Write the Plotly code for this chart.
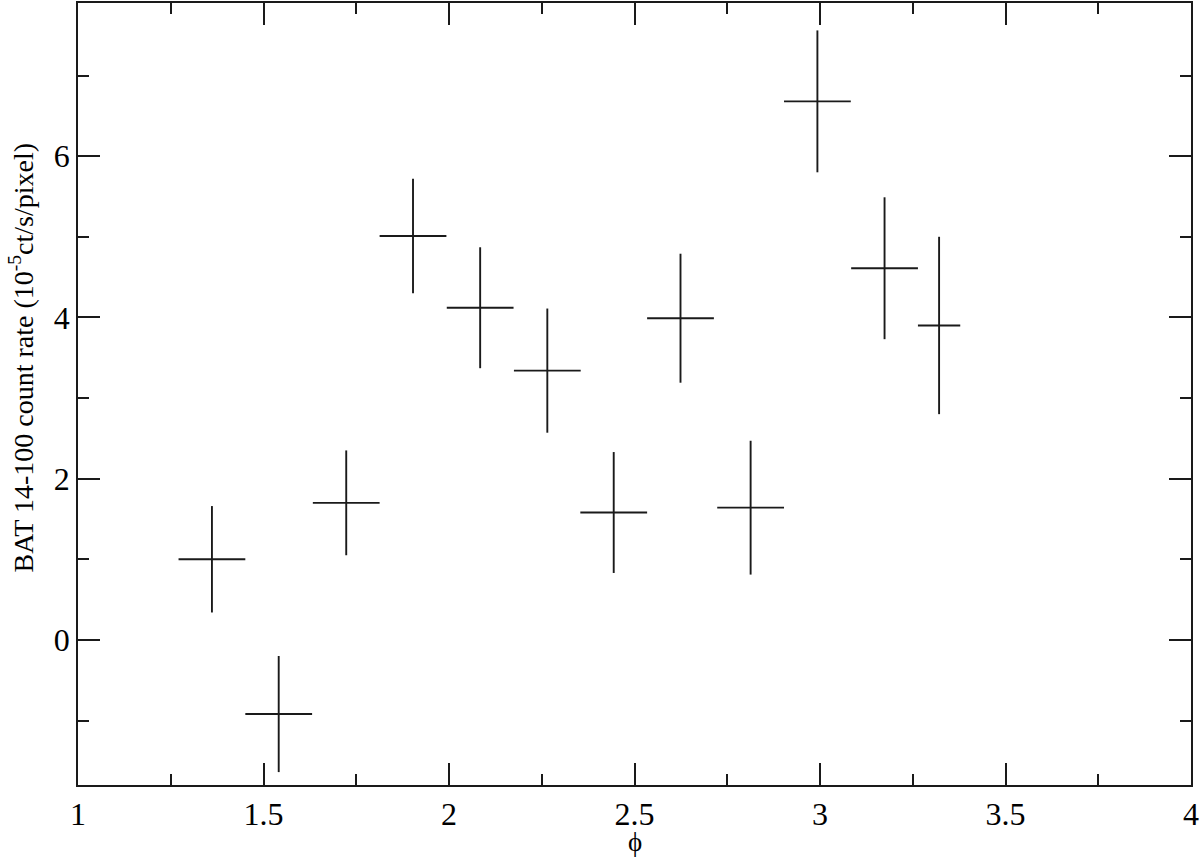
import plotly.graph_objects as go

# phase bins and BAT count rate (10^-5 ct/s/pixel)
phi = [1.361, 1.541, 1.723, 1.903, 2.084, 2.265, 2.444, 2.624, 2.813, 2.993, 3.174, 3.321]
phi_err = [0.09, 0.09, 0.09, 0.09, 0.09, 0.09, 0.09, 0.09, 0.09, 0.09, 0.09, 0.057]
rate = [1.00, -0.92, 1.70, 5.01, 4.12, 3.34, 1.58, 3.99, 1.64, 6.68, 4.61, 3.90]
rate_err = [0.66, 0.72, 0.65, 0.71, 0.75, 0.77, 0.75, 0.80, 0.83, 0.88, 0.88, 1.10]

x_ticks = [1, 1.5, 2, 2.5, 3, 3.5, 4]
y_ticks = [0, 2, 4, 6]

FONT = "Liberation Serif, Times New Roman, serif"
INK = "#1a1a1a"

fig = go.Figure()

fig.add_trace(go.Scatter(
    x=phi,
    y=rate,
    mode="markers",
    marker=dict(size=0, color="rgba(0,0,0,0)"),
    error_x=dict(type="data", array=phi_err, width=0, thickness=1.9, color=INK),
    error_y=dict(type="data", array=rate_err, width=0, thickness=1.9, color=INK),
    showlegend=False,
    hoverinfo="skip",
))

axis_common = dict(
    showgrid=False,
    zeroline=False,
    showline=True,
    linecolor=INK,
    linewidth=1.8,
    mirror="allticks",
    ticks="inside",
    ticklen=22,
    tickwidth=1.8,
    tickcolor=INK,
    ticklabeloverflow="allow",
    tickfont=dict(family=FONT, size=32, color="black"),
)

fig.update_xaxes(
    range=[1, 4],
    tickvals=x_ticks,
    ticktext=[f"{v:g}" for v in x_ticks],
    minor=dict(dtick=0.25, tick0=1, ticks="inside", ticklen=11, tickwidth=1.8, tickcolor=INK),
    **axis_common,
)
fig.update_yaxes(
    range=[-1.8, 7.9],
    tickvals=y_ticks,
    minor=dict(dtick=1, tick0=0, ticks="inside", ticklen=11, tickwidth=1.8, tickcolor=INK),
    **axis_common,
)

# axis titles as annotations so they sit where the original puts them
fig.add_annotation(
    text="BAT 14-100 count rate (10<sup>-5</sup>ct/s/pixel)",
    xref="paper", yref="paper",
    x=-0.051, y=0.547,
    xanchor="center", yanchor="middle",
    textangle=-90,
    showarrow=False,
    font=dict(family=FONT, size=28, color="black"),
)
fig.add_annotation(
    text="ϕ",
    xref="paper", yref="paper",
    x=0.5, y=-0.0727,
    xanchor="center", yanchor="middle",
    showarrow=False,
    borderpad=0,
    font=dict(family=FONT, size=27, color="black"),
)

fig.update_layout(
    width=1200,
    height=859,
    margin=dict(l=78, r=8, t=1, b=74),
    paper_bgcolor="white",
    plot_bgcolor="white",
)

# drop the default page margin so the figure sits at the window's corner
fig.write_html(
    "out.html",
    config={"displayModeBar": False},
    post_script="document.body.style.margin='0';",
)
